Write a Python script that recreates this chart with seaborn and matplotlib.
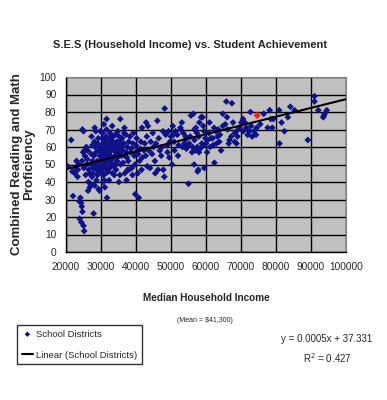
import numpy as np
import pandas as pd
import matplotlib
matplotlib.use("Agg")
import matplotlib.pyplot as plt
import seaborn as sns

# okul bolgeleri: medyan hane geliri ve okuma+matematik yeterlilik puani
gelir = [20500, 21500, 21800, 22000,
         22500, 23000, 23300, 23600, 23800, 24100, 23900, 24300, 24500, 24400, 24700, 23400, 22800,
         25000, 25200, 24700, 25000, 24600, 25800, 25400, 25100, 25600, 25900, 24900, 25300, 26200,
         26500, 26700, 26100, 26400, 26800, 26300,
         27000, 27400, 27900, 28200, 28500, 28800, 29300, 29600, 29800, 30000, 27200, 27600, 27800,
         28000, 28300, 28600, 28900, 29100, 29400, 29700, 28100, 27500, 29000, 29500, 27300, 29200,
         28700, 27700, 29900, 28400, 29600, 27100, 28200,
         30800, 31100, 31600, 31700, 30200, 30400, 30600, 30900, 31200, 31400, 31800, 30300, 30700,
         31000, 31500, 31900, 30100, 30500, 31300, 31700, 30800, 31100, 31600, 30600, 31400, 31200,
         31900, 30300, 30900, 31500,
         32200, 32500, 32800, 33200, 33500, 33800, 32100, 32400, 32700, 33000, 33300, 33600, 33900,
         32600, 33100, 32300, 33400, 33700, 32900, 32000, 33200, 33600, 32500, 33800, 32800,
         34100, 34400, 34800, 35100, 35500, 34200, 34600, 35000, 35300, 35700, 34300, 34900, 35200,
         35600, 35900, 34500, 35400, 34700, 35800, 34000,
         36200, 36700, 37300, 37600, 36000, 36500, 36900, 37100, 37500, 37800, 36300, 36800, 37200,
         37900, 36600, 37400, 38300, 38000, 38600,
         38800, 39100, 39500, 39800, 40000, 40300, 40800, 40500, 41000, 41400, 41700, 39300, 39700,
         40200, 40600, 41200, 38500, 39000, 41800, 41600,
         42900, 43400, 42500, 42800, 43200, 43700, 44200, 44600, 45000, 45400, 43100, 44000, 44800,
         45700, 42300, 46100, 46300, 45500,
         46800, 47200, 47700, 47800, 48100, 48200, 48900, 49300, 49700, 46500, 47400, 48500, 49000,
         49500, 50000,
         50500, 50300, 50900, 51300, 51800, 52200, 52700, 53100, 53500, 54000, 54400, 51000, 52000,
         53300, 54700, 52800, 50700, 54200, 53800,
         55000, 55700, 56200, 56400, 56600, 56700, 56700, 57100, 57600, 57400, 57900, 58100, 58600,
         59000, 59200, 59500, 59500, 59800, 55500, 56000, 57800, 58300, 58800, 55200, 56900, 57500,
         59300, 58000,
         60000, 60500, 61000, 61400, 61900, 62400, 62300, 62800, 63300, 63800, 64300, 64800, 64800,
         61200, 60300, 62000, 63000, 64000, 60800, 63500,
         65800, 67400, 66200, 66700, 67200, 67700, 68200, 68200, 68700, 68700, 65500, 66000, 66500,
         69000, 69500,
         70100, 70600, 71100, 70600, 71900, 72400, 72700, 72900, 73700, 74300, 74500, 73200, 71500,
         76500, 78200, 78500, 79200, 77600, 78900, 80900, 81600, 82400, 81000, 83400, 84100, 85300,
         75500,
         89100, 91000, 91000, 92100, 93700, 93900, 94500, 93500]

puan = [49, 64, 46, 32,
        45, 52, 43, 50, 29, 31, 19, 28, 26, 17, 23, 47, 48,
        15, 12, 70, 69, 52, 60, 55, 48, 44, 50, 57, 58, 58,
        47, 45, 53, 40, 37, 35,
        39, 43, 22, 71, 69, 47, 36, 35, 69, 60, 56, 52, 48,
        55, 60, 57, 52, 62, 58, 55, 63, 61, 44, 49, 66, 65,
        41, 45, 46, 50, 52, 50, 38,
        73, 37, 76, 31, 58, 53, 48, 62, 56, 51, 60, 65, 44,
        41, 66, 54, 50, 68, 59, 47, 55, 64, 70, 40, 45, 52,
        63, 57, 49, 61,
        52, 57, 61, 72, 66, 58, 46, 64, 55, 50, 45, 54, 62,
        68, 59, 41, 63, 49, 66, 57, 53, 60, 48, 44, 51,
        67, 56, 69, 40, 76, 60, 52, 62, 57, 64, 47, 58, 66,
        50, 55, 63, 44, 54, 60, 50,
        58, 71, 41, 47, 65, 62, 55, 67, 60, 52, 51, 45, 57,
        63, 68, 54, 66, 47, 59,
        48, 62, 55, 33, 61, 58, 31, 45, 52, 63, 71, 68, 50,
        65, 56, 59, 57, 44, 54, 47,
        74, 72, 62, 55, 49, 58, 63, 56, 60, 52, 66, 48, 68,
        62, 58, 75, 47, 45,
        58, 55, 69, 47, 43, 82, 61, 69, 63, 65, 60, 67, 57,
        54, 66,
        72, 50, 63, 69, 67, 61, 71, 74, 68, 64, 59, 58, 55,
        60, 61, 70, 67, 66, 62,
        39, 78, 60, 79, 50, 70, 64, 71, 46, 68, 66, 74, 77,
        77, 72, 69, 48, 65, 66, 57, 47, 59, 62, 62, 58, 60,
        61, 57,
        62, 64, 74, 65, 65, 51, 71, 69, 66, 63, 58, 72, 79,
        60, 57, 61, 62, 67, 68, 70,
        86, 85, 70, 64, 66, 74, 68, 63, 62, 69, 73, 77, 62,
        66, 71,
        74, 76, 74, 69, 67, 69, 80, 72, 69, 67, 71, 66, 71,
        79, 81, 76, 76, 71, 71, 81, 74, 69, 62, 77, 83, 81,
        73,
        64, 89, 86, 81, 78, 79, 81, 77]

# vurgulanan bolge (kirmizi nokta)
vurgu_gelir = [74600]
vurgu_puan = [78]

# Excel trend cizgisi
egim = 0.0005
kesisim = 37.331
r2 = 0.427
trend_x = [20000, 100000]

veri = pd.DataFrame({"Gelir": gelir, "Puan": puan})
vurgu = pd.DataFrame({"Gelir": vurgu_gelir, "Puan": vurgu_puan})
trend = pd.DataFrame({"Gelir": trend_x, "Puan": [egim * x + kesisim for x in trend_x]})

sns.set_style("white")
plt.rcParams["font.family"] = ["Liberation Sans", "DejaVu Sans"]

fig = plt.figure(figsize=(3.87, 4.0), dpi=100)
ax = fig.add_axes([66 / 387, 1 - 252 / 400, 280 / 387, 175 / 400])
ax.set_facecolor("#c0c0c0")

sns.scatterplot(x="Gelir", y="Puan", data=veri, ax=ax, marker="D", s=12, color="#10108a",
                edgecolor="none", label="School Districts", zorder=3)
sns.scatterplot(x="Gelir", y="Puan", data=vurgu, ax=ax, marker="D", s=14, color="#ff2020",
                edgecolor="none", zorder=4)
sns.lineplot(x="Gelir", y="Puan", data=trend, ax=ax, color="black", linewidth=1.5,
             label="Linear (School Districts)", zorder=5)

ax.set_xlim(20000, 100000)
ax.set_ylim(0, 100)
ax.set_xticks(range(20000, 100001, 10000))
ax.set_yticks(range(0, 101, 10))
ax.grid(True, color="black", linewidth=1)
ax.set_axisbelow(True)
for s in ["top", "right"]:
    ax.spines[s].set_color("#808080")
for s in ["left", "bottom"]:
    ax.spines[s].set_color("black")
    ax.spines[s].set_linewidth(1)
ax.tick_params(axis="both", direction="out", length=4, width=1, color="black",
               labelsize=7.3, pad=3)

ax.set_xlabel("Median Household Income", fontsize=7.2, fontweight="bold", labelpad=15)
ax.set_ylabel("Combined Reading and Math\nProficiency", fontsize=9.5, fontweight="bold",
              linespacing=1.0)
ax.yaxis.set_label_coords(-0.11, 0.5)

fig.text(0.49, 1 - 45 / 400, "S.E.S (Household Income) vs. Student Achievement",
         ha="center", va="center", fontsize=8.0, fontweight="bold")
fig.text(205 / 387, 1 - 320 / 400, r"(Mean = \$41,300)", ha="center", va="center", fontsize=5)
fig.text(327 / 387, 1 - 339 / 400, "y = 0.0005x + 37.331", ha="center", va="center", fontsize=7)
fig.text(327 / 387, 1 - 358 / 400, "R$^2$ = " + str(r2), ha="center", va="center", fontsize=7)

leg = ax.legend(loc="upper left", bbox_to_anchor=(17 / 387, 1 - 325 / 400),
                bbox_transform=fig.transFigure, fancybox=False, edgecolor="black",
                fontsize=6.8, handlelength=1.2, handletextpad=0.3, borderpad=0.5,
                labelspacing=1.25, borderaxespad=0, markerscale=0.8)
leg.get_frame().set_linewidth(1)

fig.savefig("out.png", dpi=100, facecolor="white")
